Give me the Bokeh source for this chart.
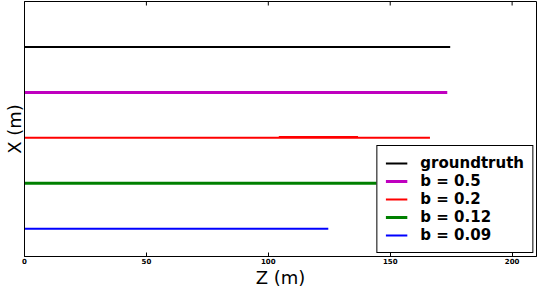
import math
from bokeh.plotting import figure
from bokeh.models import Range1d, Legend, LegendItem
from bokeh.embed import file_html
from bokeh.resources import INLINE

# ---- data ----
series_labels = ["groundtruth", "b = 0.5", "b = 0.2", "b = 0.12", "b = 0.09"]
series_colors = ["black", "#bf00bf", "#ff0000", "#008000", "#0000ff"]
series_widths = [2, 3, 2, 3, 2]
z_start = [0, 0, 0, 0, 0]
z_end = [174.6, 173.4, 166.3, 149.5, 124.6]
x_level = [5, 4, 3, 2, 1]
red_extra_z = [104.3, 136.8]
red_extra_x = [3.02, 3.02]
z_ticks = [0, 50, 100, 150, 200]
z_min, z_max = 0, 210
x_min, x_max = 0.39, 6.0

FONT = "DejaVu Sans"

p = figure(width=538, height=290,
           x_range=Range1d(z_min, z_max), y_range=Range1d(x_min, x_max),
           output_backend="svg", toolbar_location=None,
           min_border_left=0, min_border_right=2, min_border_top=1, min_border_bottom=0)
p.background_fill_color = "white"
p.border_fill_color = "white"
p.outline_line_color = "black"
p.outline_line_width = 1
p.outline_line_alpha = 1
p.xgrid.visible = False
p.ygrid.visible = False

renderers = []
for lab, col, w, z0, z1, xl in zip(series_labels, series_colors, series_widths, z_start, z_end, x_level):
    r = p.line([z0, z1], [xl, xl], line_color=col, line_width=w)
    renderers.append(r)
p.line(red_extra_z, red_extra_x, line_color=series_colors[2], line_width=2)

# inward tick marks along the top edge (matplotlib-style mirrored ticks)
p.scatter(x=z_ticks, y=[x_max] * len(z_ticks), marker="dash", angle=math.pi / 2,
          size=8, line_color="black", line_width=1)

# bottom axis
xa = p.xaxis[0]
xa.ticker = z_ticks
xa.major_tick_in = 4
xa.major_tick_out = 0
xa.minor_tick_in = 0
xa.minor_tick_out = 0
xa.axis_line_color = "black"
xa.major_tick_line_color = "black"
xa.major_label_text_font = FONT
xa.major_label_text_font_size = "7px"
xa.major_label_text_font_style = "bold"
xa.major_label_text_color = "black"
xa.major_label_standoff = 1
xa.axis_label = "Z (m)"
xa.axis_label_text_font = FONT
xa.axis_label_text_font_size = "18px"
xa.axis_label_text_font_style = "normal"
xa.axis_label_text_color = "black"
xa.axis_label_standoff = 0

# left axis
ya = p.yaxis[0]
ya.ticker = []
ya.major_tick_in = 0
ya.major_tick_out = 0
ya.minor_tick_in = 0
ya.minor_tick_out = 0
ya.axis_line_color = "black"
ya.axis_label = "X (m)"
ya.axis_label_text_font = FONT
ya.axis_label_text_font_size = "18px"
ya.axis_label_text_font_style = "normal"
ya.axis_label_text_color = "black"
ya.axis_label_standoff = 0

legend = Legend(items=[LegendItem(label=l, renderers=[r]) for l, r in zip(series_labels, renderers)],
                location="bottom_right", margin=3,
                label_text_font=FONT, label_text_font_size="15px", label_text_font_style="bold",
                label_text_color="black", glyph_width=22, glyph_height=18,
                label_standoff=13, label_height=18, spacing=0, padding=8,
                border_line_color="black", border_line_width=1, border_line_alpha=1,
                background_fill_alpha=1, background_fill_color="white")
p.add_layout(legend, "center")

open("out.html", "w").write(file_html(p, INLINE))
